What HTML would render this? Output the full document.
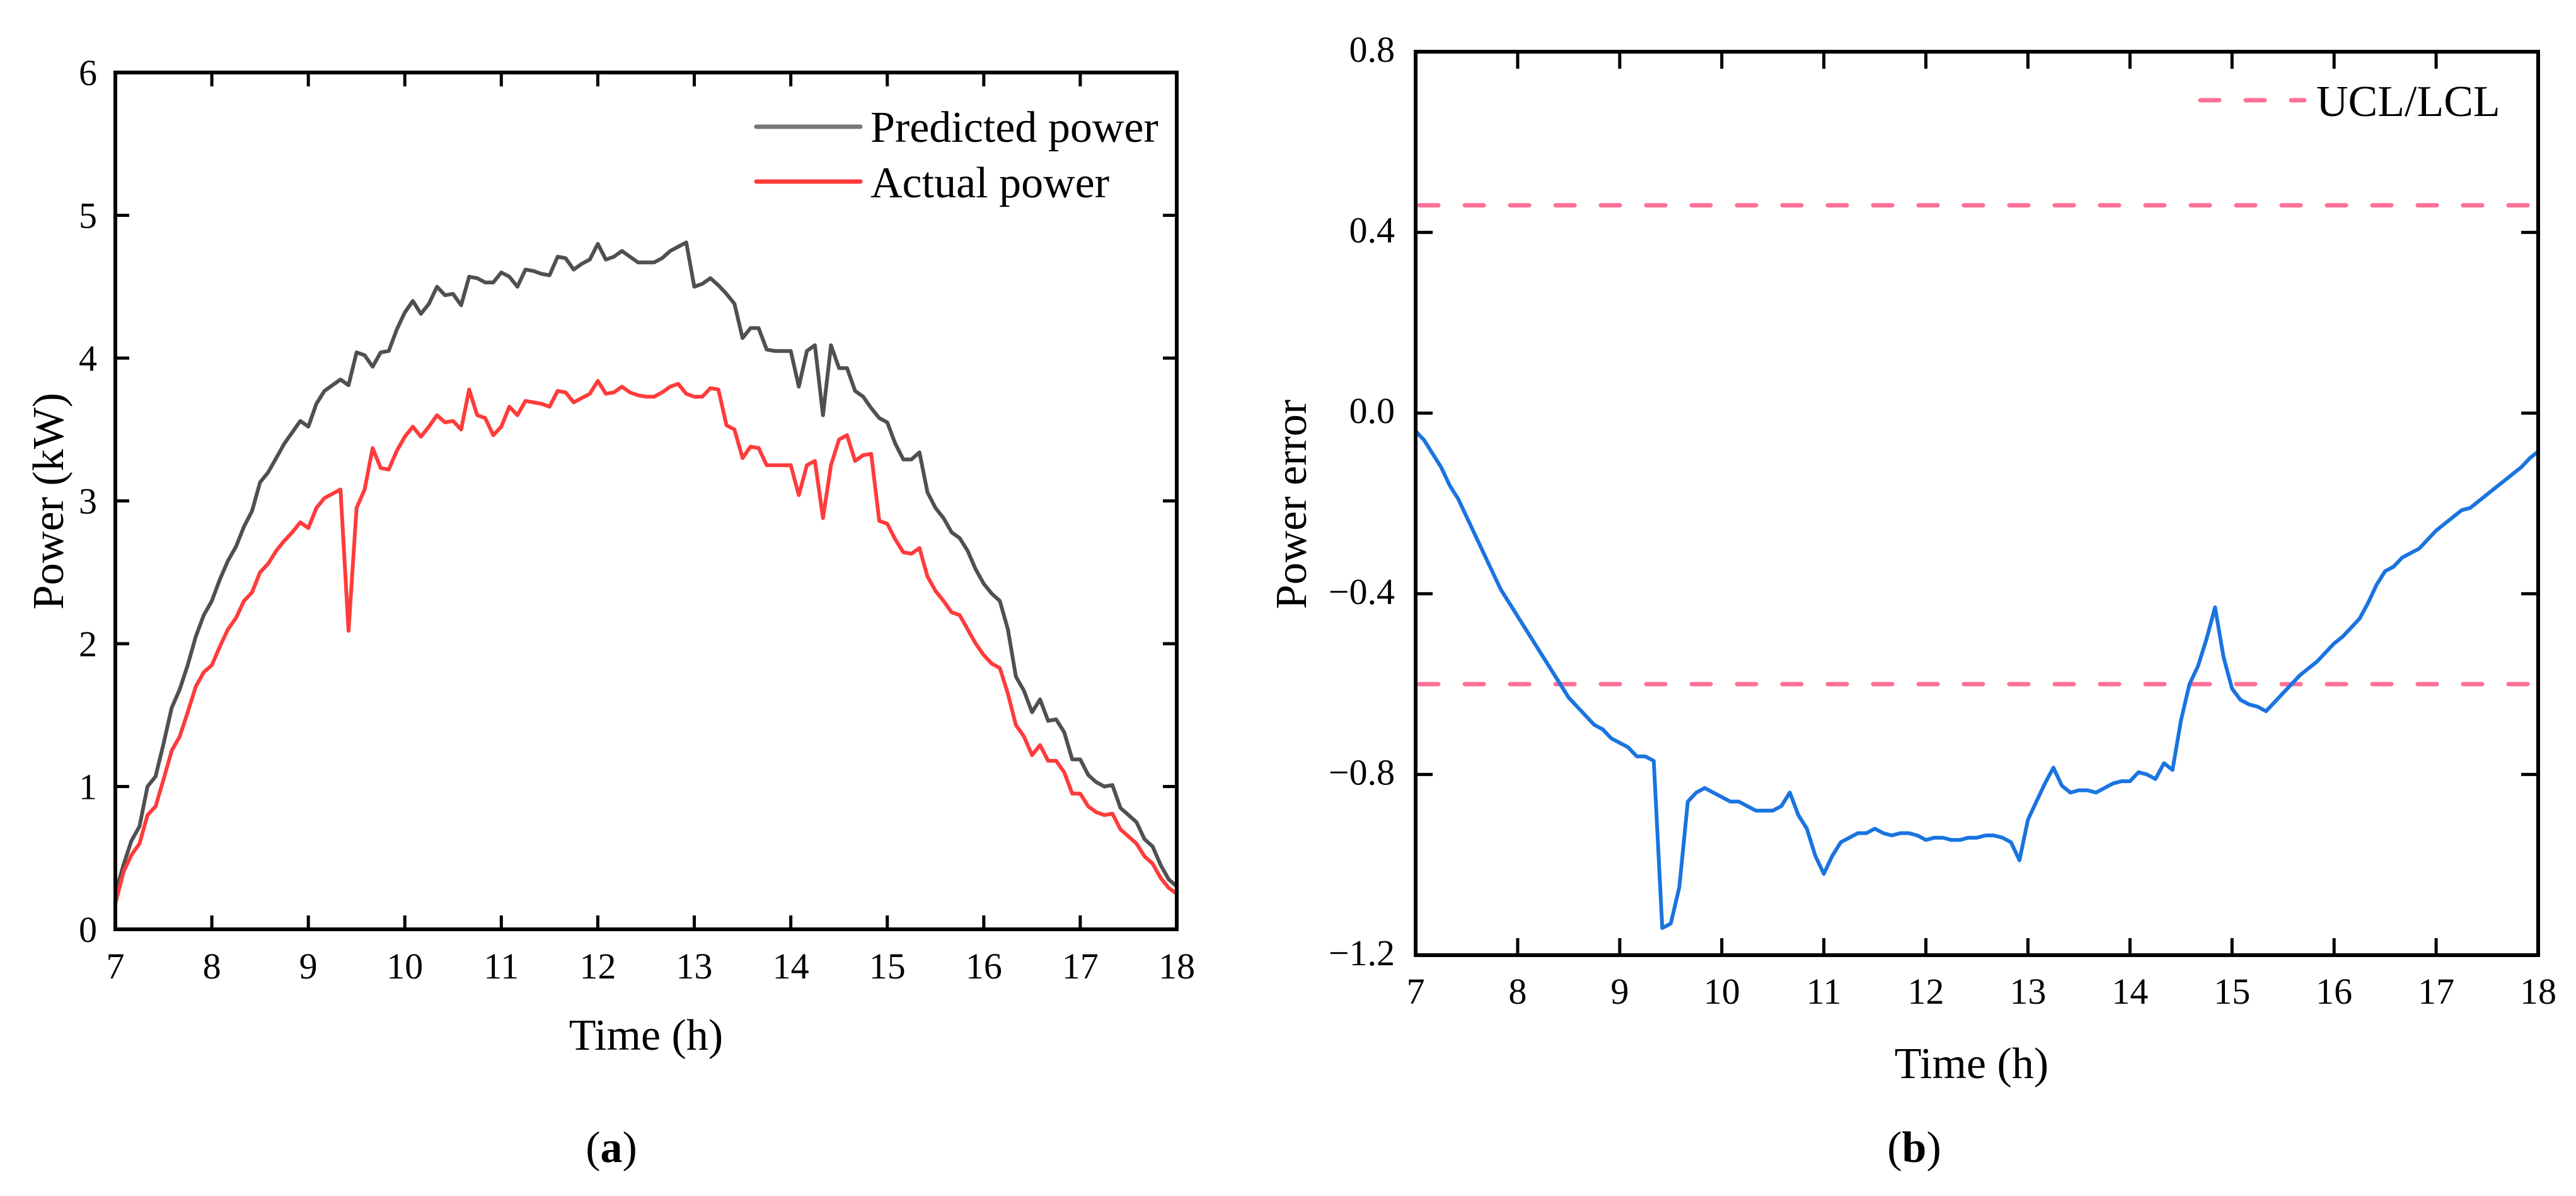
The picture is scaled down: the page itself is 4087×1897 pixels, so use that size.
<!DOCTYPE html>
<html><head><meta charset="utf-8"><style>
html,body{margin:0;padding:0;background:#fff;}
svg{display:block;font-family:"Liberation Serif",serif;}
</style></head><body>
<svg id="fig" width="4087" height="1897" viewBox="0 0 4087 1897" xmlns="http://www.w3.org/2000/svg">
<g id="pa"></g>
<g id="pb"></g>
</svg>
<script>
const hours = [7,8,9,10,11,12,13,14,15,16,17,18];
const powerTicks = [0,1,2,3,4,5,6];
const errorTicks = [0.8,0.4,0.0,-0.4,-0.8,-1.2];
const errorTickLabels = ["0.8","0.4","0.0","\u22120.4","\u22120.8","\u22121.2"];
const stepHours = 1/12;
const predicted = [
0.25,0.45,0.62,0.72,1.0,1.07,1.3,1.55,1.68,1.85,2.05,2.2,
2.3,2.45,2.58,2.68,2.82,2.93,3.13,3.2,3.3,3.4,3.48,3.56,
3.52,3.68,3.77,3.81,3.85,3.81,4.04,4.02,3.94,4.04,4.05,4.2,
4.32,4.4,4.31,4.38,4.5,4.44,4.45,4.37,4.57,4.56,4.53,4.53,
4.6,4.57,4.5,4.62,4.61,4.59,4.58,4.71,4.7,4.62,4.66,4.69,
4.8,4.69,4.71,4.75,4.71,4.67,4.67,4.67,4.7,4.75,4.78,4.81,
4.5,4.52,4.56,4.51,4.45,4.38,4.14,4.21,4.21,4.06,4.05,4.05,
4.05,3.8,4.05,4.09,3.6,4.09,3.93,3.93,3.77,3.73,3.65,3.58,
3.55,3.4,3.29,3.29,3.34,3.06,2.95,2.88,2.78,2.74,2.65,2.52,
2.42,2.35,2.3,2.1,1.77,1.67,1.52,1.61,1.46,1.47,1.38,1.19,
1.19,1.08,1.03,1.0,1.01,0.85,0.8,0.75,0.63,0.58,0.45,0.35,
0.3];
const actual = [
0.18,0.4,0.52,0.6,0.8,0.86,1.05,1.25,1.35,1.52,1.7,1.8,
1.85,1.98,2.1,2.18,2.3,2.36,2.5,2.56,2.65,2.72,2.78,2.85,
2.81,2.95,3.02,3.05,3.08,2.09,2.95,3.08,3.37,3.23,3.22,3.35,
3.45,3.52,3.45,3.52,3.6,3.55,3.56,3.5,3.78,3.6,3.58,3.46,
3.52,3.66,3.6,3.7,3.69,3.68,3.66,3.77,3.76,3.69,3.72,3.75,
3.84,3.75,3.76,3.8,3.76,3.74,3.73,3.73,3.76,3.8,3.82,3.75,
3.73,3.73,3.79,3.78,3.53,3.5,3.3,3.38,3.37,3.25,3.25,3.25,
3.25,3.04,3.25,3.28,2.88,3.25,3.43,3.46,3.28,3.32,3.33,2.86,
2.84,2.73,2.64,2.63,2.67,2.47,2.37,2.3,2.22,2.2,2.1,2.0,
1.92,1.86,1.83,1.65,1.43,1.35,1.22,1.29,1.18,1.18,1.1,0.95,
0.95,0.86,0.82,0.8,0.81,0.7,0.65,0.6,0.51,0.46,0.36,0.29,
0.25];
const powerError = [
-0.04,-0.06,-0.09,-0.12,-0.16,-0.19,-0.23,-0.27,-0.31,-0.35,-0.39,-0.42,
-0.45,-0.48,-0.51,-0.54,-0.57,-0.6,-0.63,-0.65,-0.67,-0.69,-0.7,-0.72,
-0.73,-0.74,-0.76,-0.76,-0.77,-1.14,-1.13,-1.05,-0.86,-0.84,-0.83,-0.84,
-0.85,-0.86,-0.86,-0.87,-0.88,-0.88,-0.88,-0.87,-0.84,-0.89,-0.92,-0.98,
-1.02,-0.98,-0.95,-0.94,-0.93,-0.93,-0.92,-0.93,-0.935,-0.93,-0.93,-0.935,
-0.945,-0.94,-0.94,-0.945,-0.945,-0.94,-0.94,-0.935,-0.935,-0.94,-0.95,-0.99,
-0.9,-0.86,-0.82,-0.785,-0.825,-0.84,-0.835,-0.835,-0.84,-0.83,-0.82,-0.815,
-0.815,-0.795,-0.8,-0.81,-0.775,-0.79,-0.68,-0.6,-0.56,-0.5,-0.43,-0.54,
-0.61,-0.635,-0.645,-0.65,-0.66,-0.64,-0.62,-0.6,-0.58,-0.565,-0.55,-0.53,
-0.51,-0.495,-0.475,-0.455,-0.42,-0.38,-0.35,-0.34,-0.32,-0.31,-0.3,-0.28,
-0.26,-0.245,-0.23,-0.215,-0.21,-0.195,-0.18,-0.165,-0.15,-0.135,-0.12,-0.1,
-0.085];
const controlLimits = [0.46,-0.6];

const NS = "http://www.w3.org/2000/svg";
function mk(parent, tag, attrs, text){
  const e = document.createElementNS(NS, tag);
  for (const k in attrs) e.setAttribute(k, attrs[k]);
  if (text !== undefined) e.textContent = text;
  parent.appendChild(e);
  return e;
}
function lin(d0,d1,r0,r1){return v => r0 + (v-d0)/(d1-d0)*(r1-r0);}
function pathOf(vals, xs, ys){
  return vals.map((v,i)=>(i?'L':'M')+xs(7+i*stepHours).toFixed(1)+','+ys(v).toFixed(1)).join('');
}

// ---------- Panel A ----------
const A = document.getElementById('pa');
const ax = lin(7,18,183,1867), ay = lin(0,6,1474,115);
let series = mk(A,'path',{d:pathOf(predicted,ax,ay),fill:'none',stroke:'#505050','stroke-width':6,'stroke-linejoin':'round'});


series = mk(A,'path',{d:pathOf(actual,ax,ay),fill:'none',stroke:'#ff3b3b','stroke-width':6,'stroke-linejoin':'round'});


hours.forEach(h=>{
  const x = ax(h);
  let t = mk(A,'line',{x1:x,x2:x,y1:1474,y2:1452,stroke:'#000','stroke-width':5});
  
  
  t = mk(A,'line',{x1:x,x2:x,y1:115,y2:137,stroke:'#000','stroke-width':5});
  
  
  const l = mk(A,'text',{x:x,y:1552,'font-size':58,'text-anchor':'middle'},String(h));
  
  
});
powerTicks.forEach(v=>{
  const y = ay(v);
  let t = mk(A,'line',{x1:183,x2:205,y1:y,y2:y,stroke:'#000','stroke-width':5});
  
  
  t = mk(A,'line',{x1:1867,x2:1845,y1:y,y2:y,stroke:'#000','stroke-width':5});
  
  
  const l = mk(A,'text',{x:154,y:y+20,'font-size':58,'text-anchor':'end'},String(v));
  
  
});
let fr = mk(A,'rect',{x:183,y:115,width:1684,height:1359,fill:'none',stroke:'#000','stroke-width':6});


let tx = mk(A,'text',{x:1025,y:1665,'font-size':70,'text-anchor':'middle'},'Time (h)');


tx = mk(A,'text',{x:0,y:0,'font-size':70,'text-anchor':'middle',transform:'translate(100,795) rotate(-90)'},'Power (kW)');


let lg = mk(A,'line',{x1:1200,x2:1365,y1:201,y2:201,stroke:'#777','stroke-width':7,'stroke-linecap':'round'});


tx = mk(A,'text',{x:1381,y:225,'font-size':70},'Predicted power');


lg = mk(A,'line',{x1:1200,x2:1365,y1:288,y2:288,stroke:'#ff3b3b','stroke-width':7,'stroke-linecap':'round'});


tx = mk(A,'text',{x:1381,y:313,'font-size':70},'Actual power');


tx = mk(A,'text',{x:970,y:1843,'font-size':70,'text-anchor':'middle'},'(');


mk(tx,'tspan',{'font-weight':'bold'},'a');
mk(tx,'tspan',{},')');

// ---------- Panel B ----------
const B = document.getElementById('pb');
const bx = lin(7,18,2246,4027), by = lin(-1.2,0.8,1515,82);
controlLimits.forEach(v=>{
  const d = mk(B,'line',{x1:2252,x2:4022,y1:by(v),y2:by(v),stroke:'#ff7096','stroke-width':7,'stroke-dasharray':'30 42','stroke-linecap':'round'});
  
  
});
series = mk(B,'path',{d:pathOf(powerError,bx,by),fill:'none',stroke:'#1a74e0','stroke-width':6,'stroke-linejoin':'round'});


hours.forEach(h=>{
  const x = bx(h);
  let t = mk(B,'line',{x1:x,x2:x,y1:1515,y2:1488,stroke:'#000','stroke-width':5});
  
  
  t = mk(B,'line',{x1:x,x2:x,y1:82,y2:109,stroke:'#000','stroke-width':5});
  
  
  const l = mk(B,'text',{x:x,y:1592,'font-size':58,'text-anchor':'middle'},String(h));
  
  
});
errorTicks.forEach((v,i)=>{
  const y = by(v);
  let t = mk(B,'line',{x1:2246,x2:2273,y1:y,y2:y,stroke:'#000','stroke-width':5});
  
  
  t = mk(B,'line',{x1:4027,x2:4000,y1:y,y2:y,stroke:'#000','stroke-width':5});
  
  
  const l = mk(B,'text',{x:2213,y:y+16,'font-size':58,'text-anchor':'end'},errorTickLabels[i]);
  
  
});
fr = mk(B,'rect',{x:2246,y:82,width:1781,height:1433,fill:'none',stroke:'#000','stroke-width':6});


tx = mk(B,'text',{x:3128,y:1710,'font-size':70,'text-anchor':'middle'},'Time (h)');


tx = mk(B,'text',{x:0,y:0,'font-size':70,'text-anchor':'middle',transform:'translate(2072,800) rotate(-90)'},'Power error');


lg = mk(B,'line',{x1:3491,x2:3656,y1:159,y2:159,stroke:'#ff7096','stroke-width':7,'stroke-dasharray':'30 42','stroke-linecap':'round'});


tx = mk(B,'text',{x:3675,y:184,'font-size':70},'UCL/LCL');


tx = mk(B,'text',{x:3037,y:1843,'font-size':70,'text-anchor':'middle'},'(');


mk(tx,'tspan',{'font-weight':'bold'},'b');
mk(tx,'tspan',{},')');
</script>
</body></html>
